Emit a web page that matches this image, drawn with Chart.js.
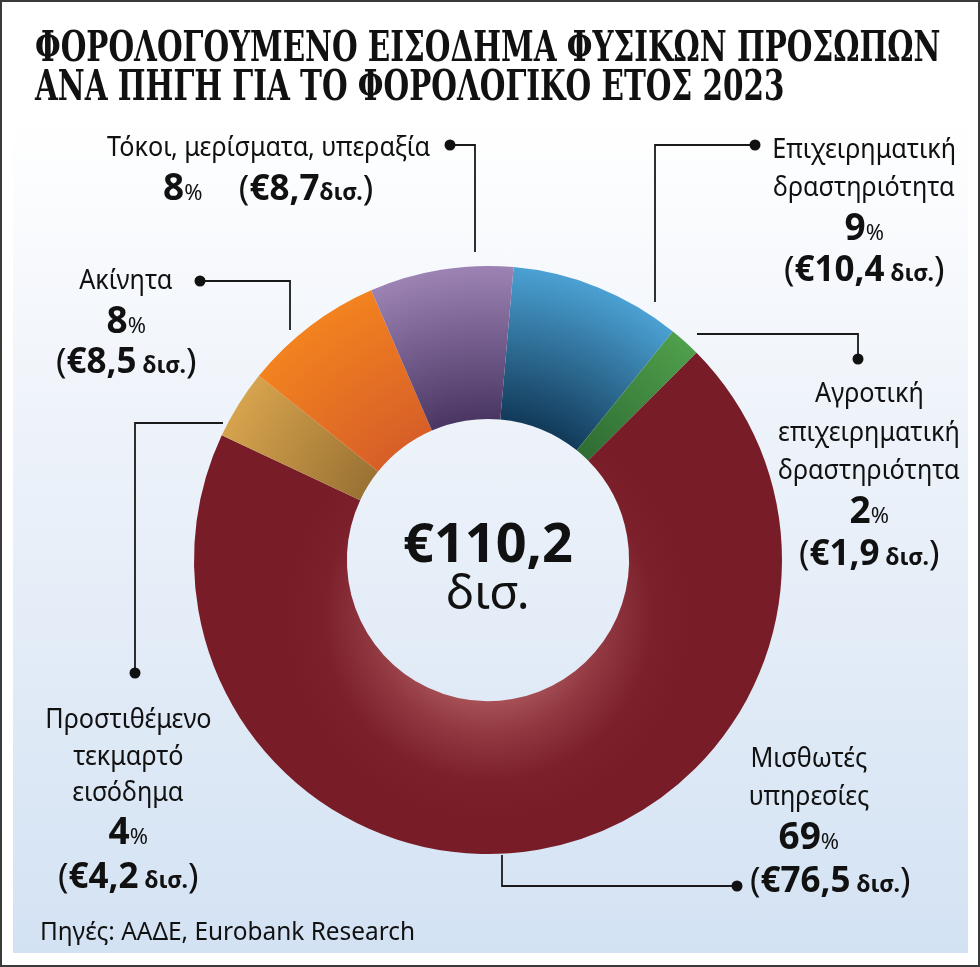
<!DOCTYPE html>
<html>
<head>
<meta charset="utf-8">
<script src="https://cdn.jsdelivr.net/npm/chart.js@4.4.1/dist/chart.umd.min.js"></script>
<style>
html, body { margin: 0; padding: 0; background: #fff; }
#wrap { position: relative; width: 980px; height: 967px; overflow: hidden; background: #fff; }
#panel { position: absolute; left: 13px; top: 0; width: 955px; height: 953px;
  background: linear-gradient(to bottom, #ffffff 0px, #ffffff 120px, #eef3fa 420px, #d3e2f3 953px); }
#frame { position: absolute; left: 0; top: 0; width: 976px; height: 963px; border: 2px solid #3a3a3a; }
canvas { position: absolute; left: 0; top: 0; }
.t { position: absolute; white-space: nowrap; color: #111; font-family: "Noto Sans", sans-serif; line-height: 1; }
.title { font-family: "DejaVu Serif Condensed", "DejaVu Serif", serif; font-stretch: condensed; font-weight: 700; transform-origin: 0 50%; }
.name { transform: scaleX(0.9); transform-origin: 50% 50%; }
.b { font-weight: 700; }
.big { font-size: 37px; }
.sm { font-size: 23px; }
.pc { font-size: 22px; }
</style>
</head>
<body>
<div id="wrap">
  <div id="panel"></div>
  <div id="frame"></div>
  <canvas id="chart" width="980" height="967"></canvas>
</div>
<script>
// Δεδομένα (δισ. ευρώ), με τη σειρά των τμημάτων ξεκινώντας από πάνω, δεξιόστροφα
const labels = ['Επιχειρηματική δραστηριότητα', 'Αγροτική επιχειρηματική δραστηριότητα', 'Μισθωτές υπηρεσίες',
  'Προστιθέμενο τεκμαρτό εισόδημα', 'Ακίνητα', 'Τόκοι, μερίσματα, υπεραξία'];
const values = [10.4, 1.9, 76.5, 4.2, 8.5, 8.7];
const nameLines = [
  ['Επιχειρηματική', 'δραστηριότητα'],
  ['Αγροτική', 'επιχειρηματική', 'δραστηριότητα'],
  ['Μισθωτές', 'υπηρεσίες'],
  ['Προστιθέμενο', 'τεκμαρτό', 'εισόδημα'],
  ['Ακίνητα'],
  ['Τόκοι, μερίσματα, υπεραξία']
];
const titleLines = ['ΦΟΡΟΛΟΓΟΥΜΕΝΟ ΕΙΣΟΔΗΜΑ ΦΥΣΙΚΩΝ ΠΡΟΣΩΠΩΝ', 'ΑΝΑ ΠΗΓΗ ΓΙΑ ΤΟ ΦΟΡΟΛΟΓΙΚΟ ΕΤΟΣ 2023'];
const sourceText = 'Πηγές: ΑΑΔΕ, Eurobank Research';

// χρώματα (εξωτερικό / εσωτερικό άκρο)
const outerColors = ['#4ba1d3', '#4f9f4b', '#781c28', '#d6a34d', '#f3821f', '#9c83b4'];
const innerColors = ['#123a59', '#2e6c33', '#781c28', '#9a7233', '#d75f28', '#4a3663'];

// θέσεις ετικετών: κέντρο x, baselines γραμμών ονόματος, ποσοστού, ποσού
const blocks = [
  { cx: 864, names: [158, 196], pct: 238, val: 281 },
  { cx: 869, names: [402, 441, 479], pct: 521, val: 565 },
  { cx: 809, names: [767, 805], pct: 847, val: 892, valCx: 830 },
  { cx: 128, names: [728, 765, 801], pct: 842, val: 888 },
  { cx: 126, names: [289], pct: 331, val: 373 },
  { cx: 268, names: [156], pct: 198, val: 198, inline: true }
];
// γραμμές σύνδεσης [σημεία], τελεία σε ένα από τα άκρα
const leaders = [
  { pts: [[755, 145], [655, 145], [655, 302]], dot: 0 },
  { pts: [[697, 334], [858, 334], [858, 359]], dot: 2 },
  { pts: [[502, 855], [502, 886], [737, 886]], dot: 2 },
  { pts: [[223, 423], [135, 423], [135, 673]], dot: 2 },
  { pts: [[200, 281], [290, 281], [290, 330]], dot: 0 },
  { pts: [[450, 145], [475, 145], [475, 252]], dot: 0 }
];

const total = values.reduce((a, b) => a + b, 0);
const fmt = v => v.toFixed(1).replace('.', ',');

function segmentFill(ctx) {
  const chart = ctx.chart;
  const area = chart.chartArea;
  const i = ctx.dataIndex;
  if (!area) return outerColors[i];
  const cx = (area.left + area.right) / 2;
  const cy = (area.top + area.bottom) / 2;
  const outer = Math.min(area.right - area.left, area.bottom - area.top) / 2;
  const inner = outer * 0.48;
  const c = chart.ctx;
  if (i === 2) {
    // φωτεινή περιοχή κάτω στο εσωτερικό άκρο
    const oy = cy + inner * 0.4;
    const g = c.createRadialGradient(cx, oy, 0, cx, oy, 205);
    g.addColorStop(0, '#b46064');
    g.addColorStop(0.42, '#a64f55');
    g.addColorStop(0.58, '#903740');
    g.addColorStop(0.8, '#7c212c');
    g.addColorStop(1, '#781c28');
    return g;
  }
  const g = c.createRadialGradient(cx, cy, inner, cx, cy, outer);
  g.addColorStop(0, innerColors[i]);
  g.addColorStop(1, outerColors[i]);
  return g;
}

const leaderPlugin = {
  id: 'leaders',
  afterDraw(chart) {
    const c = chart.ctx;
    c.save();
    c.strokeStyle = '#1a1a1a';
    c.fillStyle = '#111';
    c.lineWidth = 1.8;
    leaders.forEach(l => {
      c.beginPath();
      l.pts.forEach((p, k) => k ? c.lineTo(p[0], p[1]) : c.moveTo(p[0], p[1]));
      c.stroke();
      const d = l.pts[l.dot];
      c.beginPath();
      c.arc(d[0], d[1], 5.5, 0, Math.PI * 2);
      c.fill();
    });
    c.restore();
  }
};

new Chart(document.getElementById('chart'), {
  type: 'doughnut',
  data: {
    labels: labels,
    datasets: [{ data: values, backgroundColor: segmentFill, borderWidth: 0, hoverOffset: 0 }]
  },
  options: {
    responsive: false,
    animation: false,
    rotation: 5,
    cutout: '48%',
    layout: { padding: { left: 194, right: 198, top: 266, bottom: 113 } },
    plugins: { legend: { display: false }, tooltip: { enabled: false } },
    events: []
  },
  plugins: [leaderPlugin]
});

// κείμενα
const wrap = document.getElementById('wrap');
function place(html, cx, baseline, size, cls, ascK) {
  const d = document.createElement('div');
  d.className = 't ' + (cls || '');
  d.innerHTML = html;
  d.style.fontSize = size + 'px';
  wrap.appendChild(d);
  const w = d.offsetWidth;
  d.style.left = (cx - w / 2) + 'px';
  d.style.top = (baseline - (ascK || 0.888) * size) + 'px';
  return d;
}

// τίτλος
const t1 = place(titleLines[0], 0, 62, 42, 'title', 0.846);
const t2 = place(titleLines[1], 0, 101, 42, 'title', 0.846);
const k = 905 / t1.offsetWidth;
[t1, t2].forEach(t => { t.style.left = '35px'; t.style.transform = 'scaleX(' + k + ')'; });

values.forEach((v, i) => {
  const b = blocks[i];
  const pct = Math.round(v / total * 100);
  nameLines[i].forEach((s, j) => place(s, b.cx, b.names[j], 28, 'name'));
  const pctHtml = '<span class="b big">' + pct + '</span><span class="pc">%</span>';
  if (b.inline) {
    const valHtml = '(<span class="b">€' + fmt(v) + '</span><span class="b sm">δισ.</span>)';
    place(pctHtml + '&nbsp;&nbsp;&nbsp;&nbsp;' + valHtml, b.cx, b.pct, 35);
  } else {
    const valHtml = '(<span class="b">€' + fmt(v) + '</span><span class="b sm"> δισ.</span>)';
    place(pctHtml, b.cx, b.pct, 35);
    place(valHtml, b.valCx || b.cx, b.val, 35);
  }
});

// σύνολο στο κέντρο
place('€' + fmt(total), 488, 562, 54, 'b');
place('δισ.', 488, 610, 48);

// πηγή
const src = place(sourceText, 0, 940, 25);
src.style.left = '40px';
src.style.transformOrigin = '0 50%';
src.style.transform = 'scaleX(' + (375 / src.offsetWidth) + ')';
</script>
</body>
</html>
